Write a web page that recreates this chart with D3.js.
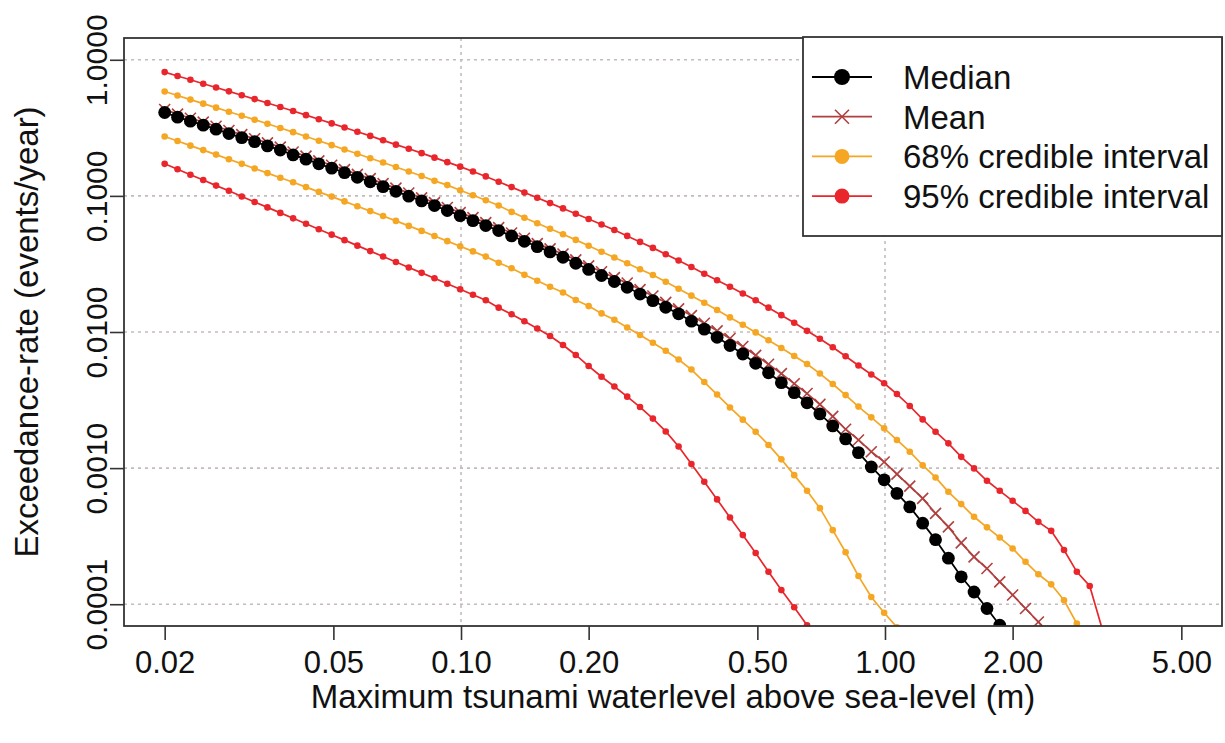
<!DOCTYPE html>
<html>
<head>
<meta charset="utf-8">
<script src="https://cdn.jsdelivr.net/npm/d3@7"></script>
<style>
  body { margin: 0; background: #fff; }
  text { font-family: "Liberation Sans", Arial, Helvetica, sans-serif; fill: #111; }
</style>
</head>
<body>
<svg width="1225" height="743"></svg>
<script>
// water level (m) at which the exceedance-rate was evaluated
var depth = [0.02, 0.02145, 0.02300, 0.02466, 0.02644, 0.02835, 0.03040, 0.03260, 0.03495, 0.03748,
	0.04018, 0.04309, 0.04620, 0.04954, 0.05312, 0.05696, 0.06108, 0.06549, 0.07022, 0.07530,
	0.08074, 0.08658, 0.09283, 0.09954, 0.1067, 0.1144, 0.1227, 0.1316, 0.1411, 0.1513,
	0.1622, 0.1740, 0.1865, 0.2, 0.2145, 0.2300, 0.2466, 0.2644, 0.2835, 0.3040,
	0.3260, 0.3495, 0.3748, 0.4018, 0.4309, 0.4620, 0.4954, 0.5312, 0.5696, 0.6108,
	0.6549, 0.7022, 0.7530, 0.8074, 0.8658, 0.9283, 0.9954, 1.067, 1.144, 1.227,
	1.316, 1.411, 1.513, 1.622, 1.740, 1.865, 2.0, 2.145, 2.300, 2.466,
	2.644, 2.835, 3.040, 3.260];

// exceedance-rates (events/year), same index as depth
var median = [0.410, 0.379, 0.354, 0.331, 0.309, 0.287, 0.268, 0.250, 0.233, 0.217,
	0.200, 0.186, 0.172, 0.160, 0.148, 0.137, 0.127, 0.117, 0.108, 0.0995,
	0.0919, 0.0849, 0.0780, 0.0716, 0.0658, 0.0605, 0.0556, 0.0508, 0.0464, 0.0424,
	0.0388, 0.0354, 0.0320, 0.0288, 0.0260, 0.0235, 0.0213, 0.0190, 0.0170, 0.0152,
	0.0136, 0.0120, 0.0105, 0.00914, 0.00796, 0.00689, 0.00589, 0.00502, 0.00424, 0.00358,
	0.00302, 0.00250, 0.00204, 0.00164, 0.00130, 0.00102, 0.000820, 0.000652, 0.000519, 0.000394,
	0.000298, 0.000218, 0.000159, 0.000123, 0.0000930, 0.0000701, 0.0000526];

var mean = [0.431, 0.399, 0.372, 0.348, 0.325, 0.302, 0.282, 0.263, 0.245, 0.228,
	0.210, 0.196, 0.181, 0.168, 0.156, 0.144, 0.134, 0.123, 0.114, 0.105,
	0.0967, 0.0893, 0.0821, 0.0753, 0.0692, 0.0636, 0.0585, 0.0534, 0.0488, 0.0446,
	0.0408, 0.0374, 0.0339, 0.0306, 0.0277, 0.0251, 0.0229, 0.0205, 0.0184, 0.0165,
	0.0148, 0.0132, 0.0116, 0.0102, 0.00896, 0.00782, 0.00674, 0.00580, 0.00494, 0.00417,
	0.00353, 0.00294, 0.00240, 0.00193, 0.00161, 0.00132, 0.00111, 0.000903, 0.000737, 0.000599,
	0.000465, 0.000370, 0.000282, 0.000223, 0.000183, 0.000146, 0.000117, 0.0000930, 0.0000741, 0.0000582];

var lo68 = [0.273, 0.253, 0.234, 0.217, 0.201, 0.186, 0.172, 0.159, 0.147, 0.136,
	0.126, 0.116, 0.107, 0.0988, 0.0911, 0.0840, 0.0773, 0.0712, 0.0655, 0.0602,
	0.0553, 0.0507, 0.0465, 0.0427, 0.0391, 0.0358, 0.0323, 0.0294, 0.0263, 0.0238,
	0.0215, 0.0195, 0.0172, 0.0155, 0.0137, 0.0123, 0.0108, 0.00951, 0.00834, 0.00729,
	0.00628, 0.00530, 0.00429, 0.00347, 0.00279, 0.00227, 0.00185, 0.00148, 0.00116, 0.000888,
	0.000681, 0.000508, 0.000350, 0.000241, 0.000161, 0.000113, 0.0000866, 0.0000678, 0.0000459];

var hi68 = [0.585, 0.546, 0.510, 0.476, 0.445, 0.415, 0.388, 0.363, 0.339, 0.315,
	0.294, 0.273, 0.254, 0.236, 0.219, 0.204, 0.189, 0.176, 0.163, 0.151,
	0.140, 0.129, 0.120, 0.110, 0.101, 0.0928, 0.0849, 0.0763, 0.0691, 0.0630,
	0.0574, 0.0523, 0.0475, 0.0430, 0.0389, 0.0353, 0.0320, 0.0289, 0.0262, 0.0234,
	0.0208, 0.0185, 0.0164, 0.0145, 0.0128, 0.0113, 0.00993, 0.00870, 0.00763, 0.00666,
	0.00582, 0.00495, 0.00415, 0.00344, 0.00283, 0.00236, 0.00196, 0.00161, 0.00132, 0.00105,
	0.000854, 0.000670, 0.000544, 0.000439, 0.000367, 0.000309, 0.000257, 0.000205, 0.000166, 0.000140,
	0.000107, 0.0000721, 0.0000388];

var lo95 = [0.172, 0.157, 0.143, 0.131, 0.119, 0.109, 0.0990, 0.0902, 0.0823, 0.0750,
	0.0684, 0.0624, 0.0569, 0.0519, 0.0473, 0.0431, 0.0393, 0.0359, 0.0327, 0.0298,
	0.0272, 0.0248, 0.0226, 0.0206, 0.0188, 0.0171, 0.0151, 0.0135, 0.0120, 0.0106,
	0.00935, 0.00803, 0.00678, 0.00562, 0.00469, 0.00398, 0.00335, 0.00281, 0.00231, 0.00186,
	0.00144, 0.00107, 0.000793, 0.000589, 0.000434, 0.000322, 0.000238, 0.000173, 0.000127, 0.0000951,
	0.0000701, 0.0000517];

var hi95 = [0.812, 0.760, 0.713, 0.667, 0.626, 0.586, 0.549, 0.514, 0.481, 0.450,
	0.420, 0.392, 0.366, 0.341, 0.318, 0.296, 0.276, 0.256, 0.238, 0.222,
	0.206, 0.191, 0.177, 0.164, 0.151, 0.139, 0.127, 0.116, 0.106, 0.0968,
	0.0885, 0.0809, 0.0740, 0.0676, 0.0616, 0.0561, 0.0508, 0.0459, 0.0415, 0.0373,
	0.0335, 0.0300, 0.0268, 0.0240, 0.0215, 0.0192, 0.0171, 0.0151, 0.0133, 0.0117,
	0.0102, 0.00891, 0.00772, 0.00664, 0.00567, 0.00487, 0.00420, 0.00350, 0.00286, 0.00228,
	0.00185, 0.00152, 0.00121, 0.000995, 0.000807, 0.000681, 0.000575, 0.000485, 0.000403, 0.000346,
	0.000250, 0.000173, 0.000136, 0.0000644];

var xTicks = [0.02, 0.05, 0.1, 0.2, 0.5, 1, 2, 5];
var xTickLabels = ["0.02", "0.05", "0.10", "0.20", "0.50", "1.00", "2.00", "5.00"];
var yTicks = [1, 0.1, 0.01, 0.001, 0.0001];
var yTickLabels = ["1.0000", "0.1000", "0.0100", "0.0010", "0.0001"];
var legendLabels = ["Median", "Mean", "68% credible interval", "95% credible interval"];

var RED = "#e8262b", ORANGE = "#f5a623", BROWN = "#b0403f", BLACK = "#000";

var svg = d3.select("svg");
var plot = {left: 124, top: 38, right: 1222, bottom: 626};

// R style: limits padded by 4% on each side (in log units)
function padLog(lim) {
	var a = Math.log10(lim[0]), b = Math.log10(lim[1]);
	var e = (b - a) * 0.04;
	return [Math.pow(10, a - e), Math.pow(10, b + e)];
}

var x = d3.scaleLog().domain(padLog([0.02, 5])).range([plot.left, plot.right]);
var y = d3.scaleLog().domain(padLog([0.0001, 1])).range([plot.bottom, plot.top]);

svg.append("defs").append("clipPath").attr("id", "clip")
	.append("rect")
	.attr("x", plot.left).attr("y", plot.top)
	.attr("width", plot.right - plot.left)
	.attr("height", plot.bottom - plot.top);

// dotted grid at the decades
var grid = svg.append("g")
	.attr("stroke", "#c4bcbc")
	.attr("stroke-width", 1.6)
	.attr("stroke-dasharray", "3,4");
yTicks.forEach(function(t) {
	grid.append("line")
		.attr("x1", plot.left).attr("x2", plot.right)
		.attr("y1", y(t)).attr("y2", y(t));
});
[0.1, 1].forEach(function(t) {
	grid.append("line")
		.attr("x1", x(t)).attr("x2", x(t))
		.attr("y1", plot.top).attr("y2", plot.bottom);
});

var series = [
	{values: hi95, color: RED, marker: "dot", r: 3.3, width: 1.7},
	{values: lo95, color: RED, marker: "dot", r: 3.3, width: 1.7},
	{values: hi68, color: ORANGE, marker: "dot", r: 3.3, width: 1.7},
	{values: lo68, color: ORANGE, marker: "dot", r: 3.3, width: 1.7},
	{values: mean, color: BROWN, marker: "cross", r: 5.5, width: 1.7},
	{values: median, color: BLACK, marker: "dot", r: 6.4, width: 1.8}
];

var line = d3.line()
	.x(function(d) { return x(d.x); })
	.y(function(d) { return y(d.v); });

var curves = svg.append("g").attr("clip-path", "url(#clip)");

function drawMarker(g, type, cx, cy, r, color) {
	if (type == "cross") {
		g.append("path")
			.attr("d", "M" + (cx - r) + "," + (cy - r) + "L" + (cx + r) + "," + (cy + r) +
				"M" + (cx - r) + "," + (cy + r) + "L" + (cx + r) + "," + (cy - r))
			.attr("stroke", color)
			.attr("stroke-width", 1.6)
			.attr("fill", "none");
	} else {
		g.append("circle")
			.attr("cx", cx).attr("cy", cy).attr("r", r)
			.attr("fill", color);
	}
}

for (var s = 0; s < series.length; s++) {
	var sr = series[s];
	var pts = sr.values.map(function(v, i) { return {x: depth[i], v: v}; });
	curves.append("path")
		.datum(pts)
		.attr("d", line)
		.attr("fill", "none")
		.attr("stroke", sr.color)
		.attr("stroke-width", sr.width);
	for (var i = 0; i < pts.length; i++) {
		drawMarker(curves, sr.marker, x(pts[i].x), y(pts[i].v), sr.r, sr.color);
	}
}

// axes
var xAxis = d3.axisBottom(x)
	.tickValues(xTicks)
	.tickFormat(function(d, i) { return xTickLabels[i]; })
	.tickSize(14);
var gx = svg.append("g")
	.attr("transform", "translate(0," + plot.bottom + ")")
	.call(xAxis);
gx.select(".domain").remove();
gx.selectAll(".tick line").attr("stroke", "#333").attr("stroke-width", 1.6);
gx.selectAll(".tick text")
	.attr("y", 47).attr("dy", 0)
	.style("font-size", "31px")
	.attr("fill", "#111");

var yAxis = d3.axisLeft(y)
	.tickValues(yTicks)
	.tickFormat(function(d, i) { return yTickLabels[i]; })
	.tickSize(14);
var gy = svg.append("g")
	.attr("transform", "translate(" + plot.left + ",0)")
	.call(yAxis);
gy.select(".domain").remove();
gy.selectAll(".tick line").attr("stroke", "#333").attr("stroke-width", 1.6);
gy.selectAll(".tick text")
	.attr("x", 0).attr("y", -17).attr("dy", 0)
	.attr("transform", "rotate(-90)")
	.attr("text-anchor", "middle")
	.style("font-size", "30px")
	.attr("fill", "#111");

// plot frame
svg.append("rect")
	.attr("x", plot.left).attr("y", plot.top)
	.attr("width", plot.right - plot.left)
	.attr("height", plot.bottom - plot.top)
	.attr("fill", "none")
	.attr("stroke", "#333")
	.attr("stroke-width", 1.8);

// axis titles
svg.append("text")
	.attr("x", (plot.left + plot.right) / 2)
	.attr("y", 708)
	.attr("text-anchor", "middle")
	.style("font-size", "33px")
	.text("Maximum tsunami waterlevel above sea-level (m)");

svg.append("text")
	.attr("transform", "translate(38," + (plot.top + plot.bottom) / 2 + ") rotate(-90)")
	.attr("text-anchor", "middle")
	.style("font-size", "33px")
	.text("Exceedance-rate (events/year)");

// legend (top right, white background)
var legend = svg.append("g");
legend.append("rect")
	.attr("x", 803).attr("y", 37)
	.attr("width", plot.right - 803).attr("height", 199)
	.attr("fill", "#fff")
	.attr("stroke", "#333")
	.attr("stroke-width", 1.8);

var legendKeys = [
	{color: BLACK, marker: "dot", r: 8},
	{color: BROWN, marker: "cross", r: 7},
	{color: ORANGE, marker: "dot", r: 7.5},
	{color: RED, marker: "dot", r: 7.5}
];
for (var k = 0; k < legendKeys.length; k++) {
	var ly = 77 + k * 39.7;
	legend.append("line")
		.attr("x1", 812).attr("x2", 872)
		.attr("y1", ly).attr("y2", ly)
		.attr("stroke", legendKeys[k].color)
		.attr("stroke-width", 1.8);
	drawMarker(legend, legendKeys[k].marker, 842, ly, legendKeys[k].r, legendKeys[k].color);
	legend.append("text")
		.attr("x", 903).attr("y", ly + 12)
		.style("font-size", "33px")
		.text(legendLabels[k]);
}
</script>
</body>
</html>
